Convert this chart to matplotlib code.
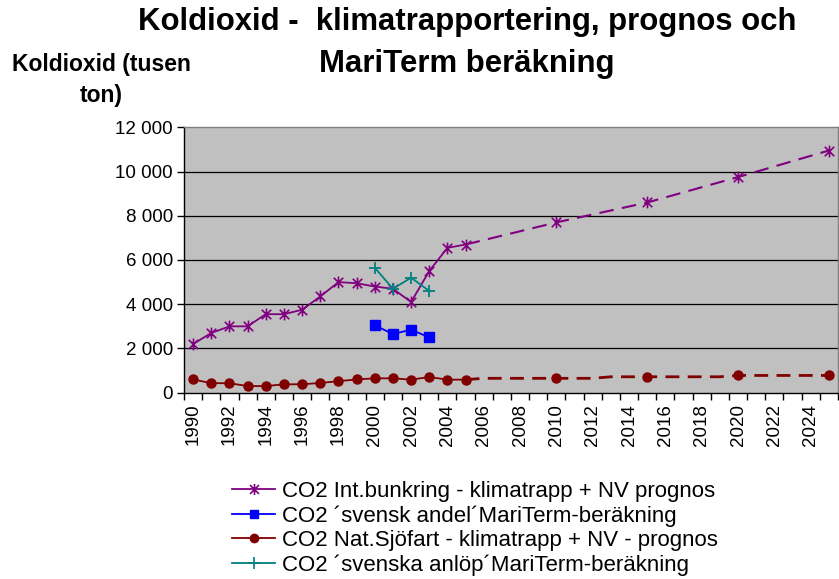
import matplotlib
matplotlib.use("Agg")
import matplotlib.pyplot as plt
import numpy as np
from matplotlib.path import Path
from matplotlib.ticker import FixedLocator, FuncFormatter
from matplotlib.lines import Line2D

plt.rcParams['font.family'] = ['Liberation Sans', 'DejaVu Sans']

# ---- data ----
years = list(range(1990, 2026))
hist_years = list(range(1990, 2006))
bunker_hist = [2200, 2700, 3000, 3000, 3550, 3550, 3750, 4350, 5000, 4950,
               4800, 4700, 4100, 5500, 6550, 6700]
bunker_prog_years = [2005, 2010, 2015, 2020, 2025]
bunker_prog = [6700, 7700, 8600, 9750, 10950]

nat_hist = [600, 430, 430, 300, 300, 380, 380, 440, 520, 600,
            650, 650, 590, 710, 590, 590]
nat_prog_years = list(range(2005, 2026))
nat_prog = [590, 650, 650, 650, 650, 650, 650, 650, 720, 720,
            720, 720, 720, 720, 720, 780, 780, 780, 780, 780, 780]
marker_years = [2010, 2015, 2020, 2025]

mt_years = [2000, 2001, 2002, 2003]
svensk_andel = [3050, 2650, 2850, 2500]
svenska_anlop = [5650, 4700, 5200, 4600]

series_labels = ["CO2 Int.bunkring - klimatrapp + NV prognos",
                 "CO2 \u00b4svensk andel\u00b4MariTerm-ber\u00e4kning",
                 "CO2 Nat.Sj\u00f6fart - klimatrapp + NV - prognos",
                 "CO2 \u00b4svenska anl\u00f6p\u00b4MariTerm-ber\u00e4kning"]
title_lines = ["Koldioxid -  klimatrapportering, prognos och",
               "MariTerm ber\u00e4kning"]
ylabel = "Koldioxid (tusen\nton)"

def idx(ys):
    return [y - 1990 for y in ys]

# asterisk marker (X + vertical)
star = Path([(-1, -1), (1, 1), (-1, 1), (1, -1), (0, -1.25), (0, 1.25)],
            [Path.MOVETO, Path.LINETO, Path.MOVETO, Path.LINETO, Path.MOVETO, Path.LINETO])

purple = '#800080'
blue = '#0000FF'
dred = '#800000'
teal = '#008080'

fig = plt.figure(figsize=(8.39, 5.79), dpi=100)
W, H = 839, 579
x0, x1 = 184, 838
y0, y1 = 392.7, 127.3
ax = fig.add_axes([x0 / W, 1 - y0 / H, (x1 - x0) / W, (y0 - y1) / H])
ax.set_facecolor('#C0C0C0')

# gridlines
for v in range(2000, 12000, 2000):
    ax.axhline(v, color='black', lw=0.9, zorder=1)

# purple
ax.plot(idx(hist_years), bunker_hist, color=purple, lw=1.3, marker=star,
        markersize=8.5, markeredgewidth=1.2, zorder=4)
ax.plot(idx(bunker_prog_years), bunker_prog, color=purple, lw=1.5,
        dashes=(7, 4), zorder=3)
ax.plot(idx(marker_years), bunker_prog[1:], ls='none', color=purple, marker=star,
        markersize=8.5, markeredgewidth=1.2, zorder=4)
# blue
ax.plot(idx(mt_years), svensk_andel, color=blue, lw=1.3, marker='s',
        markersize=6.5, zorder=4)
# dark red
ax.plot(idx(hist_years), nat_hist, color=dred, lw=1.3, marker='o',
        markersize=6.5, zorder=4)
ax.plot(idx(nat_prog_years), nat_prog, color=dred, lw=2.0,
        dashes=(5, 3), zorder=3)
ax.plot(idx(marker_years), [nat_prog[y - 2005] for y in marker_years], ls='none',
        color=dred, marker='o', markersize=6.5, zorder=4)
# teal
ax.plot(idx(mt_years), svenska_anlop, color=teal, lw=1.3, marker='+',
        markersize=9, markeredgewidth=1.3, zorder=4)

ax.set_xlim(-0.5, len(years) - 0.5)
ax.set_ylim(0, 12000)
ax.xaxis.set_major_locator(FixedLocator(np.arange(-0.5, len(years), 1.0)))
ax.xaxis.set_major_formatter(FuncFormatter(lambda v, p: ''))
ax.xaxis.set_minor_locator(FixedLocator(np.arange(0, len(years), 2)))
ax.xaxis.set_minor_formatter(FuncFormatter(lambda v, p: str(int(round(v)) + 1990)))
ax.tick_params(axis='x', which='major', direction='out', length=5, width=1, color='black')
ax.tick_params(axis='x', which='minor', length=0, labelsize=13.5, rotation=90, pad=8)
ax.set_yticks(range(0, 12001, 2000))
ax.yaxis.set_major_formatter(FuncFormatter(lambda v, p: f"{int(v):,}".replace(',', ' ')))
ax.tick_params(axis='y', direction='out', length=5, width=1, color='black',
               labelsize=13.5, pad=3)
for s in ['left', 'bottom']:
    ax.spines[s].set_color('black')
    ax.spines[s].set_linewidth(1.0)
for s in ['top', 'right']:
    ax.spines[s].set_color('#808080')
    ax.spines[s].set_linewidth(1.0)

fig.text(467 / W, 1 - 22 / H, title_lines[0], ha='center', va='center', fontsize=22.4,
         fontweight='bold')
fig.text(467 / W, 1 - 64 / H, title_lines[1], ha='center', va='center', fontsize=22.4,
         fontweight='bold')
fig.text(101 / W, 1 - 80 / H, ylabel, ha='center', va='center', fontsize=16.5,
         fontweight='bold', linespacing=1.4)

handles = [
    Line2D([], [], color=purple, lw=1.3, marker=star, markersize=8, markeredgewidth=1.2),
    Line2D([], [], color=blue, lw=1.3, marker='s', markersize=6),
    Line2D([], [], color=dred, lw=1.3, marker='o', markersize=6),
    Line2D([], [], color=teal, lw=1.3, marker='+', markersize=8, markeredgewidth=1.2),
]
fig.legend(handles, series_labels, loc='upper left', bbox_to_anchor=(232 / W, 1 - 481 / H),
           frameon=False, fontsize=16, handlelength=1.95, handletextpad=0.3,
           labelspacing=0.15, borderpad=0, borderaxespad=0)

fig.savefig('out.png', dpi=100)
